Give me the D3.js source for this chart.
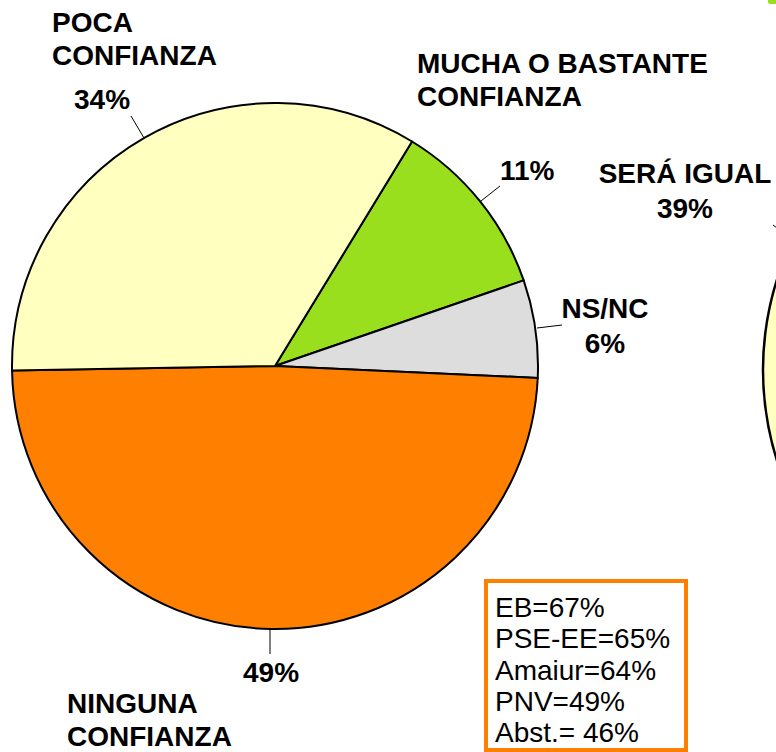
<!DOCTYPE html>
<html>
<head>
<meta charset="utf-8">
<script src="https://cdn.jsdelivr.net/npm/d3@7"></script>
<style>
  body { margin: 0; background: #fff; }
  svg { display: block; font-family: "Liberation Sans", Arial, sans-serif; }
  .lbl { font-weight: bold; font-size: 28px; fill: #000; }
  .box-txt { font-size: 28px; fill: #000; }
</style>
</head>
<body>
<svg id="chart"></svg>
<script>
// main pie: confianza
const categories = ["MUCHA O BASTANTE CONFIANZA", "NS/NC", "NINGUNA CONFIANZA", "POCA CONFIANZA"];
const values = [11, 6, 49, 34];
const colors = ["#9ADF1E", "#DDDDDD", "#FF8000", "#FFFFC0"];

// second pie (mostly cut off at the right)
const pie2Label = "SERÁ IGUAL";
const pie2Value = 39;

// boxed note
const boxLines = ["EB=67%", "PSE-EE=65%", "Amaiur=64%", "PNV=49%", "Abst.= 46%"];

const width = 776, height = 752;
const cx = 275, cy = 366, radius = 263;

const svg = d3.select("#chart")
  .attr("width", width)
  .attr("height", height);

const deg = Math.PI / 180;

const pie = d3.pie()
  .sort(null)
  .value(d => d)
  .startAngle(31.4 * deg)
  .endAngle(31.4 * deg + 2 * Math.PI);

const arc = d3.arc().innerRadius(0).outerRadius(radius);

const g = svg.append("g")
  .attr("transform", `translate(${cx}, ${cy})`);

g.selectAll("path")
  .data(pie(values))
  .join("path")
  .attr("d", arc)
  .attr("fill", (d, i) => colors[i])
  .attr("stroke", "#000")
  .attr("stroke-width", 2)
  .attr("stroke-linejoin", "round");

// second pie, only a piece on the right edge
const pct = d3.scaleLinear().domain([0, 100]).range([0, 2 * Math.PI]);
const c2x = 1063, c2y = 370, r2 = 300;
const start2 = 224 * deg;
svg.append("path")
  .attr("transform", `translate(${c2x}, ${c2y})`)
  .attr("d", d3.arc()({innerRadius: 0, outerRadius: r2, startAngle: start2, endAngle: start2 + pct(pie2Value)}))
  .attr("fill", "#FFFFC0")
  .attr("stroke", "#000")
  .attr("stroke-width", 2.5);

// labels (text lines, position)
const labels = [
  {lines: ["MUCHA O BASTANTE", "CONFIANZA"], x: 417, y: 73, anchor: "start"},
  {lines: ["11%"], x: 500, y: 180, anchor: "start"},
  {lines: ["NS/NC", "6%"], x: 605, y: 318, anchor: "middle"},
  {lines: ["49%"], x: 243, y: 682, anchor: "start"},
  {lines: ["NINGUNA", "CONFIANZA"], x: 67, y: 713, anchor: "start"},
  {lines: ["POCA", "CONFIANZA"], x: 52, y: 32, anchor: "start"},
  {lines: ["34%"], x: 74, y: 109, anchor: "start"},
  {lines: [pie2Label, pie2Value + "%"], x: 685, y: 183, anchor: "middle"}
];

labels.forEach(l => {
  const t = svg.append("text")
    .attr("class", "lbl")
    .attr("text-anchor", l.anchor);
  l.lines.forEach((s, i) => {
    t.append("tspan")
      .attr("x", l.x)
      .attr("y", l.y + i * (l.lines.length > 1 && l.lines[1].includes("%") ? 35 : 32.5))
      .text(s);
  });
});

// leader lines
const leaders = [
  [[131, 116], [144, 138]],
  [[500, 186], [481, 201]],
  [[562, 325], [537, 328]],
  [[270, 629], [270, 654]],
  [[773, 225], [777, 228]]
];
svg.selectAll("line.leader")
  .data(leaders)
  .join("line")
  .attr("class", "leader")
  .attr("x1", d => d[0][0]).attr("y1", d => d[0][1])
  .attr("x2", d => d[1][0]).attr("y2", d => d[1][1])
  .attr("stroke", "#000")
  .attr("stroke-width", 1);

// little green mark at the top-right corner
svg.append("rect")
  .attr("x", 768).attr("y", -4)
  .attr("width", 12).attr("height", 8)
  .attr("rx", 2)
  .attr("fill", "#9ADF1E");

// boxed results
svg.append("rect")
  .attr("x", 486).attr("y", 581)
  .attr("width", 200).attr("height", 169)
  .attr("fill", "#fff")
  .attr("stroke", "#FF8000")
  .attr("stroke-width", 4);

svg.append("g")
  .selectAll("text")
  .data(boxLines)
  .join("text")
  .attr("class", "box-txt")
  .attr("x", 495)
  .attr("y", (d, i) => 617 + i * 31.3)
  .text(d => d);
</script>
</body>
</html>
